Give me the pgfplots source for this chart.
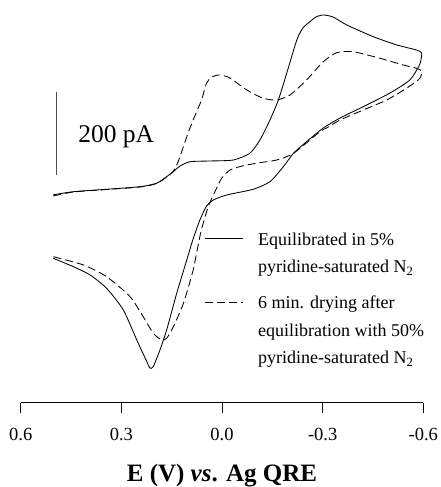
\documentclass[border=0pt]{standalone}
\usepackage{fontspec}
\setmainfont{Liberation Serif}
\usepackage{pgfplots}
\pgfplotsset{compat=1.18}
\begin{document}
\begin{tikzpicture}
\path[use as bounding box] (0,0) rectangle (440pt,487pt);
\begin{axis}[
  at={(20.7pt,84.3pt)}, anchor=south west,
  scale only axis, width=402.6pt, height=402.7pt,
  xmin=-0.6, xmax=0.6, ymin=0, ymax=970.5,
  x dir=reverse,
  axis x line*=bottom, axis line style={-, line width=0.8pt},
  hide y axis,
  xtick={-0.6,-0.3,0,0.3,0.6},
  xticklabels={-0.6,-0.3,0.0,0.3,0.6},
  tick align=outside, major tick length=10pt,
  tick style={line width=0.8pt, black},
  xticklabel style={font=\fontsize{18.5}{18.5}\selectfont, anchor=base, yshift=-28pt},
  xlabel={\textbf{E (V) \textit{vs}. Ag QRE}},
  xlabel style={font=\fontsize{25}{25}\selectfont, at={(axis description cs:0.5,0)}, anchor=base, yshift=-79pt},
  clip=false,
]
% Equilibrated in 5% (solid)
\addplot[black, line width=0.85pt, smooth, tension=0.4] coordinates {
(0.503,501) (0.443,508.5) (0.344,514.3) (0.244,520.6) (0.195,528.8) (0.165,544.7)
(0.145,556.7) (0.125,570.4) (0.095,580.8) (0.036,582.5) (-0.034,584.9) (-0.083,601.1)
(-0.113,633.1) (-0.143,681.3) (-0.168,729.5) (-0.194,797) (-0.223,874.1) (-0.241,903)
(-0.262,918.2) (-0.280,929.5) (-0.302,934.4) (-0.331,929.5) (-0.372,910.3) (-0.451,882.1)
(-0.521,862.1) (-0.580,850) (-0.595,842.8) (-0.593,825.9) (-0.587,811.4) (-0.560,777.7)
(-0.501,746.4) (-0.421,713.4) (-0.352,686.1) (-0.302,662) (-0.252,629) (-0.213,601)
(-0.183,568.8) (-0.143,532.6) (-0.093,514.3) (-0.014,500.6) (0.026,488.5) (0.046,474)
(0.066,440) (0.086,395) (0.105,343.9) (0.135,263.7) (0.165,175.2) (0.185,127)
(0.205,86.8) (0.215,83.6) (0.224,98.8) (0.254,151.1) (0.294,223.4) (0.344,275.7)
(0.393,307.8) (0.443,327.8) (0.503,348)
};
% 6 min drying (dashed)
\addplot[black, line width=0.85pt, dash pattern=on 8pt off 4pt, smooth, tension=0.4] coordinates {
(0.503,498.1) (0.443,507.8) (0.344,513.8) (0.244,519.8) (0.195,528.3) (0.165,543.9)
(0.145,558.4) (0.131,580.1) (0.115,617) (0.101,650) (0.086,681.3) (0.061,729.5)
(0.046,770.5) (0.030,785) (0.011,789.8) (-0.009,787.3) (-0.024,782.5) (-0.074,753.6)
(-0.123,733.6) (-0.163,729.5) (-0.203,741.6) (-0.252,777.7) (-0.302,821.8) (-0.342,843.5)
(-0.391,845.9) (-0.471,830) (-0.540,813.9) (-0.580,805.9) (-0.595,799.4) (-0.593,787.3)
(-0.585,777.7) (-0.551,758.4) (-0.491,729.5) (-0.421,705.4) (-0.352,681.3) (-0.312,662)
(-0.292,653.1) (-0.213,601) (-0.163,584.9) (-0.113,578.4) (-0.064,571.2) (-0.024,560.8)
(0.001,540.8) (0.021,508.5) (0.041,472.4) (0.063,411.4) (0.086,319.8) (0.115,239.6)
(0.145,183.2) (0.165,155.2) (0.180,151.1) (0.205,167.3) (0.235,207.3) (0.274,255.5)
(0.344,303.7) (0.413,331.9) (0.503,351.9)
};
% scale bar
\draw[line width=0.8pt, black!70] (axis cs:0.4948,548.7) -- (axis cs:0.4948,748.7);
\node[anchor=base west, inner sep=0pt, font=\fontsize{25.5}{25.5}\selectfont] at (axis cs:0.429,625.9) {200 pA};
% legend
\draw[black, line width=0.85pt] (axis cs:0.0507,396.9) -- (axis cs:-0.0626,396.9);
\draw[black, line width=0.85pt, dash pattern=on 8pt off 4pt] (axis cs:0.0507,242.7) -- (axis cs:-0.0626,242.7);
\begin{scope}[every node/.style={anchor=base west, inner sep=0pt, font=\fontsize{18}{18}\selectfont}]
\node at (axis cs:-0.107,380) {Equilibrated in 5\%};
\node at (axis cs:-0.107,312.6) {pyridine-saturated N\textsubscript{2}};
\node at (axis cs:-0.107,228.2) {6 min. drying after};
\node at (axis cs:-0.107,160.7) {equilibration with 50\%};
\node at (axis cs:-0.107,93.3) {pyridine-saturated N\textsubscript{2}};
\end{scope}
\end{axis}
\end{tikzpicture}
\end{document}
